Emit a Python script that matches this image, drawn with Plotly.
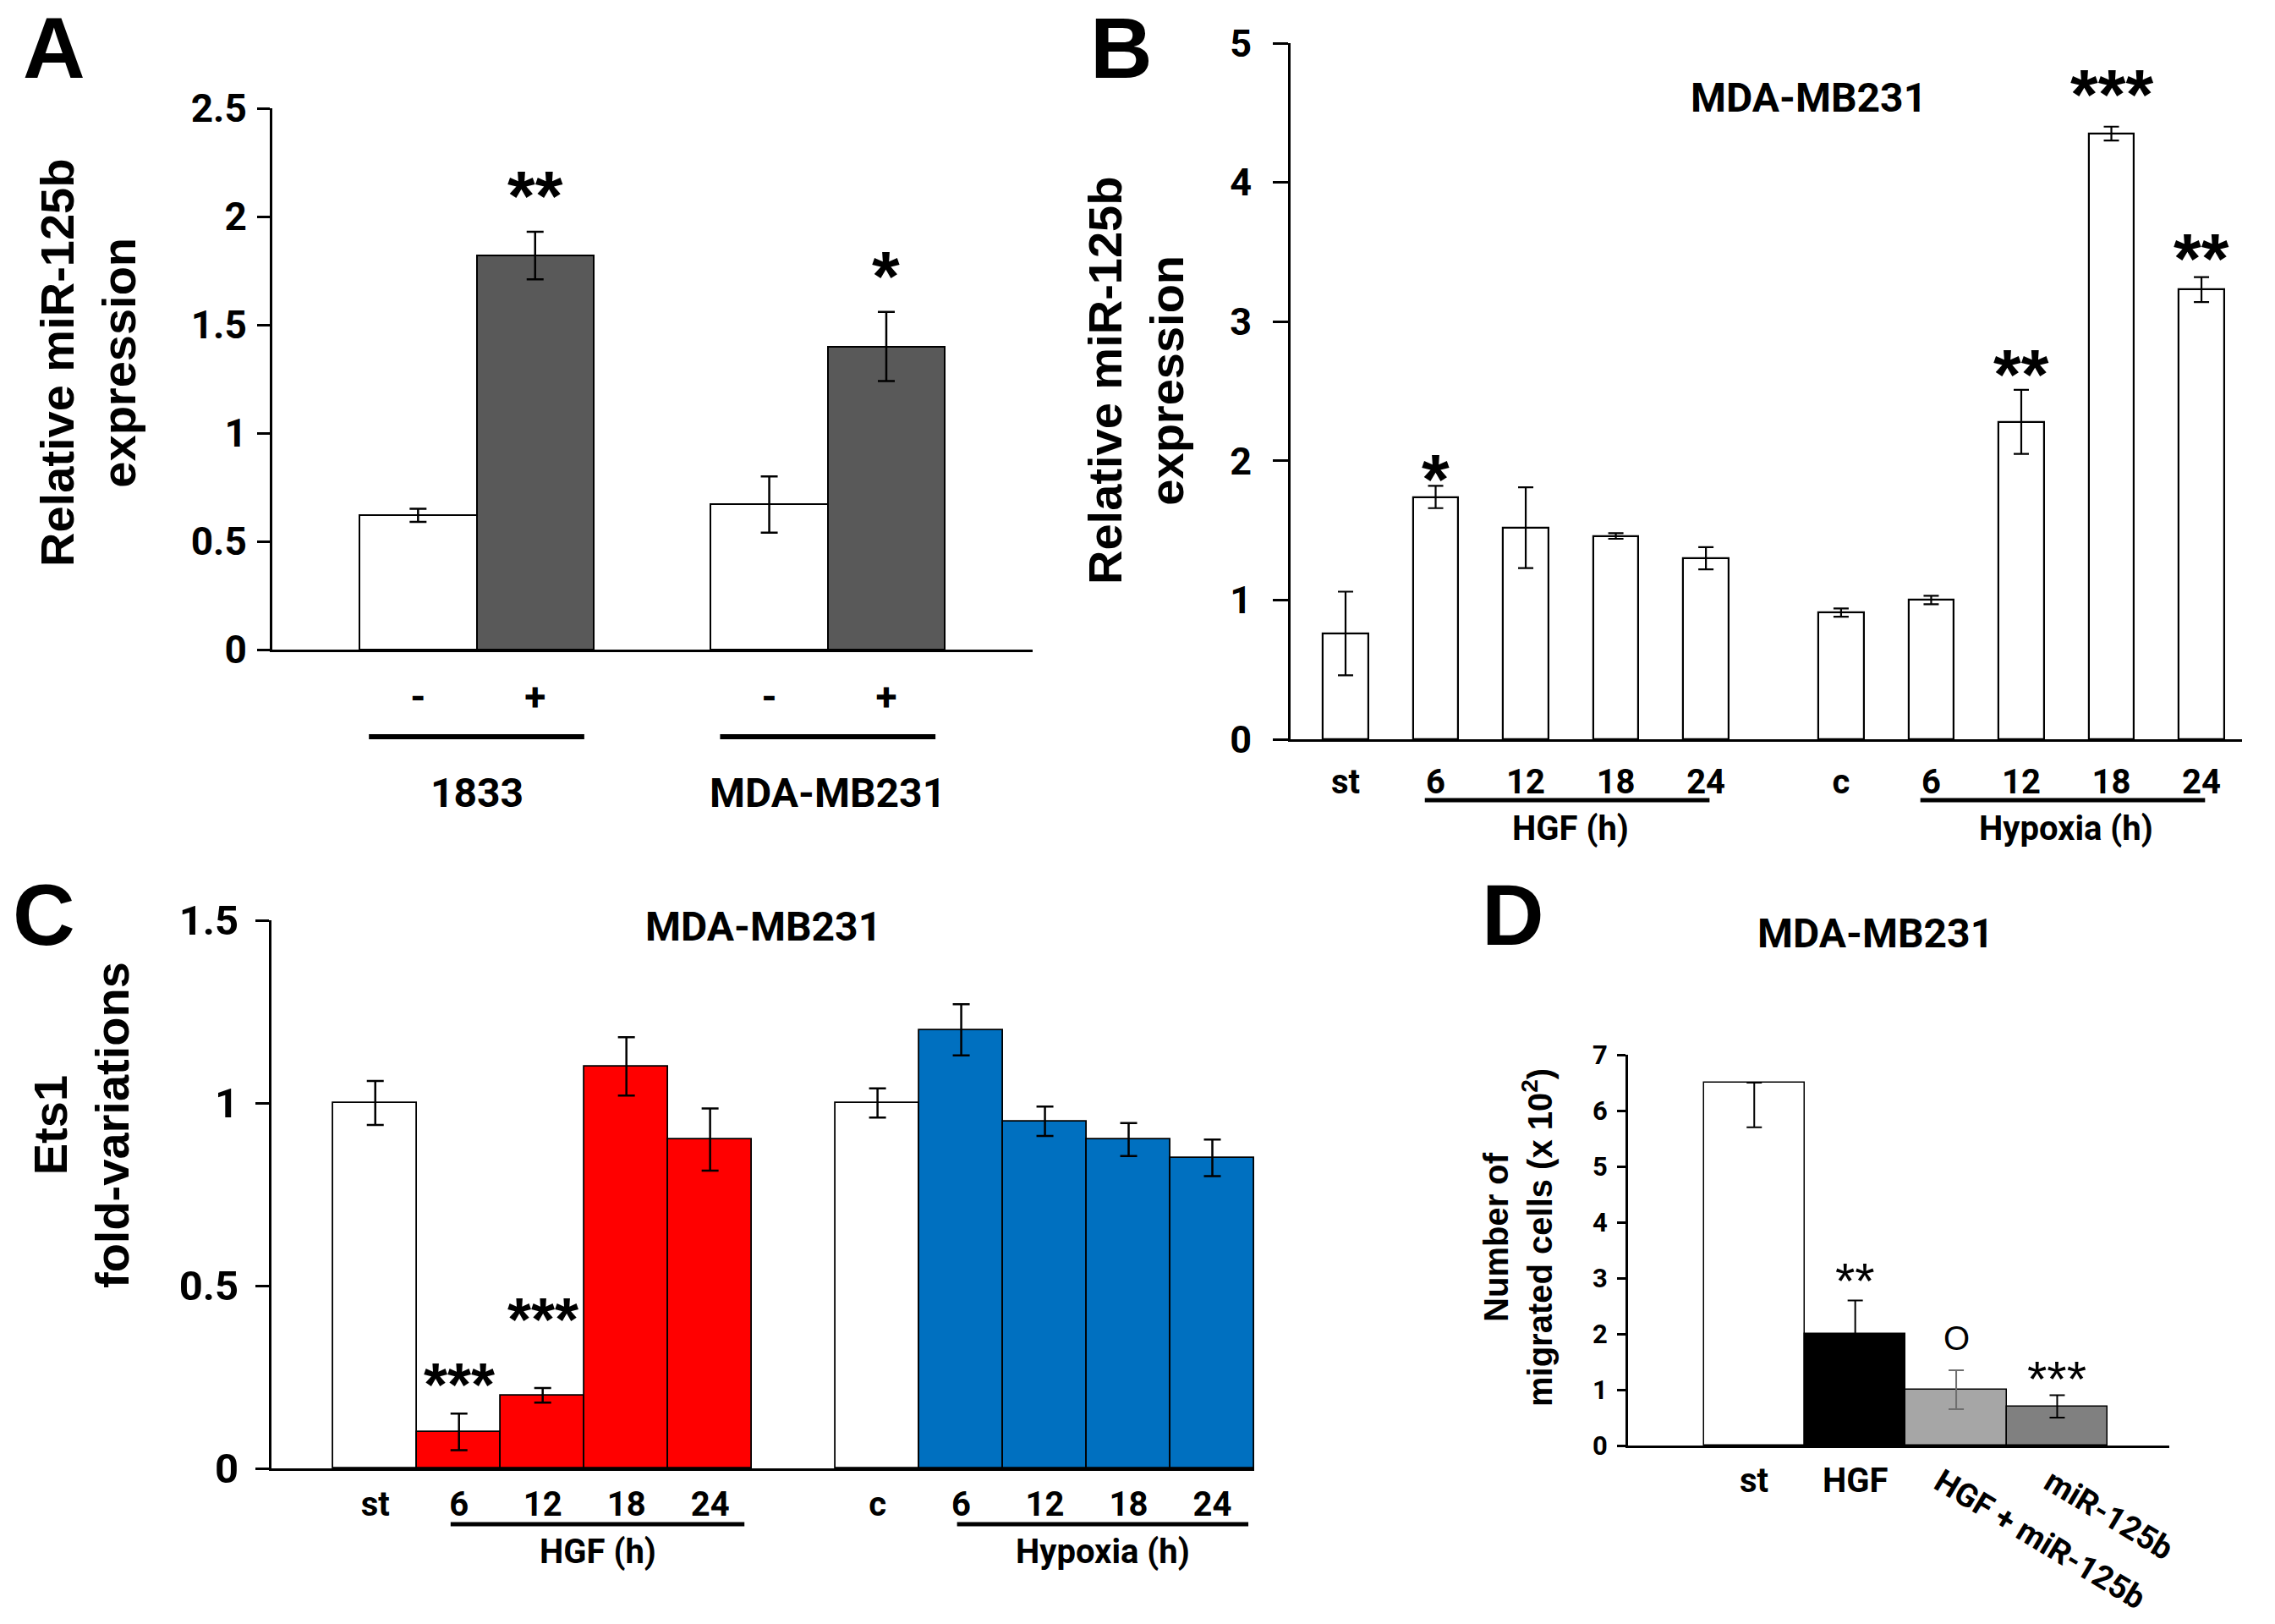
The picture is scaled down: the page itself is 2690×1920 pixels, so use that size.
import plotly.graph_objects as go

# ---------------- data ----------------
# Panel A
a_cells = ["1833", "MDA-MB231"]
a_treat_labels = ["-", "+"]
a_minus = [0.62, 0.67]
a_minus_err = [0.03, 0.13]
a_plus = [1.82, 1.40]
a_plus_err = [0.11, 0.16]
a_plus_stars = ["**", "*"]

# Panel B
b_labels = ["st", "6", "12", "18", "24", "c", "6", "12", "18", "24"]
b_values = [0.76, 1.74, 1.52, 1.46, 1.30, 0.91, 1.00, 2.28, 4.35, 3.23]
b_errors = [0.30, 0.08, 0.29, 0.02, 0.08, 0.03, 0.03, 0.23, 0.05, 0.09]
b_stars = ["", "*", "", "", "", "", "", "**", "***", "**"]
b_groups = ["HGF (h)", "Hypoxia (h)"]

# Panel C
c_labels = ["st", "6", "12", "18", "24", "c", "6", "12", "18", "24"]
c_values = [1.00, 0.10, 0.20, 1.10, 0.90, 1.00, 1.20, 0.95, 0.90, 0.85]
c_errors = [0.06, 0.05, 0.02, 0.08, 0.085, 0.04, 0.07, 0.04, 0.045, 0.05]
c_stars = ["", "***", "***", "", "", "", "", "", "", ""]
c_groups = ["HGF (h)", "Hypoxia (h)"]

# Panel D
d_labels = ["st", "HGF", "HGF + miR-125b", "miR-125b"]
d_values = [6.5, 2.0, 1.0, 0.7]
d_err_plus = [0.0, 0.6, 0.35, 0.2]
d_err_minus = [0.8, 0.6, 0.35, 0.2]
d_marks = ["", "**", "O", "***"]

# ---------------- style ----------------
W, H = 2690, 1920
NARROW = "Roboto, Open Sans, sans-serif"
ARIAL = "Liberation Sans, Arial, sans-serif"
BLACK = "black"

# vertical nudges (px) for significance marks, per bar
b_star_shift = {1: 7, 7: 18, 8: 38, 9: 22}
c_star_shift = {1: 34, 2: 81}
d_mark_shift = {1: 23, 2: 38, 3: 19}
# horizontal offsets for the slanted labels of panel D
d_slant_offset = {2: -0.30, 3: -0.21}


def px_x(v):
    return v / W


def px_y(v):
    return 1 - v / H


def font(size, family=NARROW, weight="bold"):
    return dict(family=family, size=size, color=BLACK, weight=weight)


fig = go.Figure()

# ---- Panel A ----
a_pos_minus = [3 * i for i in range(len(a_cells))]
a_pos_plus = [3 * i + 1 for i in range(len(a_cells))]
fig.add_trace(go.Bar(x=a_pos_minus, y=a_minus, width=1, marker=dict(color="white", line=dict(color=BLACK, width=2)),
                     error_y=dict(type="data", array=a_minus_err, color=BLACK, thickness=2.5, width=10),
                     xaxis="x", yaxis="y", showlegend=False))
fig.add_trace(go.Bar(x=a_pos_plus, y=a_plus, width=1, marker=dict(color="#595959", line=dict(color=BLACK, width=2)),
                     error_y=dict(type="data", array=a_plus_err, color=BLACK, thickness=2.5, width=10),
                     xaxis="x", yaxis="y", showlegend=False))

# ---- Panel B ----
b_pos = [i + (0.5 if i >= 5 else 0) for i in range(len(b_values))]
fig.add_trace(go.Bar(x=b_pos, y=b_values, width=0.5, marker=dict(color="white", line=dict(color=BLACK, width=2.2)),
                     error_y=dict(type="data", array=b_errors, color=BLACK, thickness=2.2, width=9),
                     xaxis="x2", yaxis="y2", showlegend=False))

# ---- Panel C ----
c_pos = [i + (1 if i >= 5 else 0) for i in range(len(c_values))]
c_colors = ["white" if lab in ("st", "c") else ("#FF0000" if i < 5 else "#0070C0") for i, lab in enumerate(c_labels)]
fig.add_trace(go.Bar(x=c_pos, y=c_values, width=1, marker=dict(color=c_colors, line=dict(color=BLACK, width=1.8)),
                     error_y=dict(type="data", array=c_errors, color=BLACK, thickness=2.5, width=10),
                     xaxis="x3", yaxis="y3", showlegend=False))

# ---- Panel D ----
d_colors = ["white", "black", "#A6A6A6", "#808080"]
d_errcolors = [BLACK, BLACK, "#6E6E6E", BLACK]
for i in range(len(d_values)):
    fig.add_trace(go.Bar(x=[i], y=[d_values[i]], width=1,
                         marker=dict(color=d_colors[i], line=dict(color=BLACK, width=1.5)),
                         error_y=dict(type="data", symmetric=False, array=[d_err_plus[i]],
                                      arrayminus=[d_err_minus[i]], color=d_errcolors[i], thickness=2, width=9),
                         xaxis="x4", yaxis="y4", showlegend=False))


def yaxis(domain, rng, dtick, anchor, size, ticklen, standoff):
    return dict(domain=domain, range=rng, dtick=dtick, anchor=anchor, showgrid=False, zeroline=False,
                automargin=False, showline=True, linecolor=BLACK, linewidth=3, ticks="outside",
                ticklen=ticklen, tickwidth=2.5, tickcolor=BLACK, ticklabelstandoff=standoff,
                tickfont=font(size))


def xaxis(domain, rng, anchor, tickvals, ticktext, size, standoff, lw=3, show=True):
    return dict(domain=domain, range=rng, anchor=anchor, showgrid=False, zeroline=False, automargin=False,
                showline=True, linecolor=BLACK, linewidth=lw, ticks="", tickvals=tickvals, ticktext=ticktext,
                showticklabels=show, ticklabelstandoff=standoff, tickfont=font(size))


a_tickvals = []
a_ticktext = []
for i in range(len(a_cells)):
    a_tickvals += [a_pos_minus[i], a_pos_plus[i]]
    a_ticktext += a_treat_labels

fig.update_layout(
    width=W, height=H, margin=dict(l=0, r=0, t=0, b=0, pad=0, autoexpand=False),
    paper_bgcolor="white", plot_bgcolor="white", bargap=0,
    xaxis=xaxis([px_x(322), px_x(1221)], [-1.245, 5.25], "y", a_tickvals, a_ticktext, 46, 14),
    yaxis=yaxis([px_y(768), px_y(128)], [0, 2.5], 0.5, "x", 46, 15, 3),
    xaxis2=xaxis([px_x(1526), px_x(2651)], [-0.61, 9.95], "y2", b_pos, b_labels, 40, 13),
    yaxis2=yaxis([px_y(874), px_y(51)], [0, 5], 1, "x2", 45, 18, 16),
    xaxis3=xaxis([px_x(321), px_x(1483)], [-1.24, 10.5], "y3", c_pos, c_labels, 40, 5),
    yaxis3=yaxis([px_y(1736), px_y(1088)], [0, 1.5], 0.5, "x3", 49, 16, 10),
    xaxis4=xaxis([px_x(1925), px_x(2565)], [-1.25, 4.11], "y4", None, None, 36, 10, lw=2.5, show=False),
    yaxis4=yaxis([px_y(1709), px_y(1247)], [0, 7], 1, "x4", 31, 10, 5),
)

ann = []
shapes = []


def paper_text(text, x, y, size, family=NARROW, angle=0):
    return dict(text=text, x=px_x(x), y=px_y(y), xref="paper", yref="paper", showarrow=False,
                xanchor="center", yanchor="middle", textangle=angle, font=font(size, family))


# Panel letters
for letter, (lx, ly) in zip("ABCD", [(64, 57), (1326, 57), (52, 1082), (1789, 1082)]):
    ann.append(paper_text(letter, lx, ly, 102, ARIAL))

# Panel titles
for tx, ty in [(2138, 115), (902, 1095), (2217, 1103)]:
    ann.append(paper_text("MDA-MB231", tx, ty, 48))

# Y axis titles
for text, (tx, ty), sz in [("Relative miR-125b<br>expression", (104, 429), 56),
                           ("Relative miR-125b<br>expression", (1343, 450), 56),
                           ("Ets1<br>fold-variations", (96, 1330), 56),
                           ("Number of<br>migrated cells (x 10<sup>2</sup>)", (1795, 1463), 40)]:
    ann.append(paper_text(text, tx, ty, sz, ARIAL, -90))

# Panel A stars and group labels
for i in range(len(a_cells)):
    ann.append(dict(text=a_plus_stars[i], x=a_pos_plus[i], y=a_plus[i] + a_plus_err[i], xref="x", yref="y",
                    xanchor="center", yanchor="middle", yshift=42, showarrow=False, font=font(84, ARIAL)))
    center = (a_pos_minus[i] + a_pos_plus[i]) / 2
    ann.append(dict(text=a_cells[i], x=center, y=px_y(937), xref="x", yref="paper", showarrow=False,
                    xanchor="center", yanchor="middle", font=font(48)))
    shapes.append(dict(type="line", xref="x", yref="paper", x0=center - 0.92, x1=center + 0.92,
                       y0=px_y(871), y1=px_y(871), line=dict(color=BLACK, width=6)))

# Panel B stars / groups
for i, s in enumerate(b_stars):
    if s:
        ann.append(dict(text=s, x=b_pos[i], y=b_values[i] + b_errors[i], xref="x2", yref="y2",
                        xanchor="center", yanchor="middle", yshift=b_star_shift.get(i, 18), showarrow=False,
                        font=font(84, ARIAL)))
for g, (lo, hi) in zip(b_groups, [(1, 4), (6, 9)]):
    x0, x1 = b_pos[lo] - 0.12, b_pos[hi] + 0.04
    shapes.append(dict(type="line", xref="x2", yref="paper", x0=x0, x1=x1,
                       y0=px_y(946), y1=px_y(946), line=dict(color=BLACK, width=5)))
    ann.append(dict(text=g, x=(b_pos[lo] + b_pos[hi]) / 2, y=px_y(980), xref="x2", yref="paper", showarrow=False,
                    xanchor="center", yanchor="middle", font=font(40)))

# Panel C stars / groups
for i, s in enumerate(c_stars):
    if s:
        ann.append(dict(text=s, x=c_pos[i], y=c_values[i] + c_errors[i], xref="x3", yref="y3",
                        xanchor="center", yanchor="middle", yshift=c_star_shift.get(i, 34), showarrow=False,
                        font=font(72, ARIAL)))
for g, (lo, hi), (o0, o1) in zip(c_groups, [(1, 4), (6, 9)], [(-0.1, 0.41), (-0.05, 0.43)]):
    x0, x1 = c_pos[lo] + o0, c_pos[hi] + o1
    shapes.append(dict(type="line", xref="x3", yref="paper", x0=x0, x1=x1,
                       y0=px_y(1802), y1=px_y(1802), line=dict(color=BLACK, width=5)))
    ann.append(dict(text=g, x=(x0 + x1) / 2, y=px_y(1834), xref="x3", yref="paper", showarrow=False,
                    xanchor="center", yanchor="middle", font=font(40)))

# Panel D marks and labels
for i, s in enumerate(d_marks):
    if s:
        ann.append(dict(text=s, x=i, y=d_values[i] + d_err_plus[i], xref="x4", yref="y4",
                        xanchor="center", yanchor="middle", yshift=d_mark_shift.get(i, 20), showarrow=False,
                        font=font(60 if s != "O" else 40, ARIAL, "normal")))
for i, lab in enumerate(d_labels):
    if i < 2:
        ann.append(dict(text=lab, x=i, y=px_y(1750), xref="x4", yref="paper", showarrow=False,
                        xanchor="center", yanchor="middle", font=font(40)))
    else:
        ann.append(dict(text=lab, x=i + d_slant_offset[i], y=px_y(1726), xref="x4", yref="paper",
                        showarrow=False, xanchor="left", yanchor="top", textangle=31, font=font(38)))

fig.update_layout(annotations=ann, shapes=shapes)
fig.write_html("out.html", config={"displayModeBar": False},
               post_script="document.body.style.margin='0px';")
